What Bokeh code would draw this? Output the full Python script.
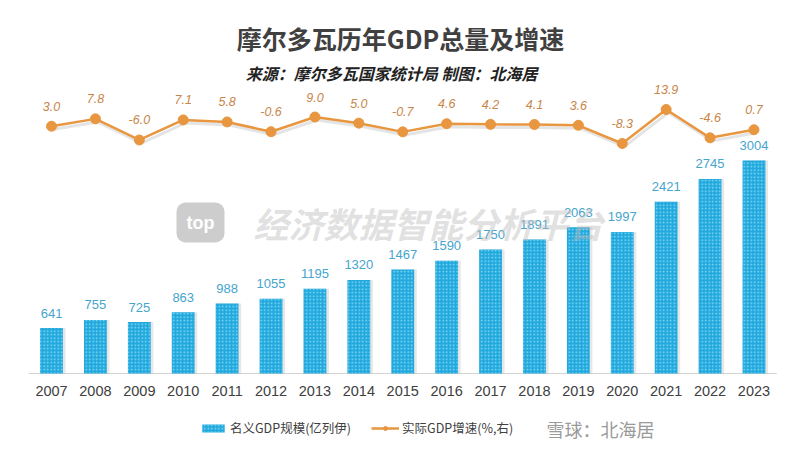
from bokeh.plotting import figure
from bokeh.models import (ColumnDataSource, Range1d, Label, Legend, LegendItem)
from bokeh.transform import dodge
from bokeh.core.properties import value
from bokeh.embed import file_html
from bokeh.resources import INLINE

years = ["2007", "2008", "2009", "2010", "2011", "2012", "2013", "2014", "2015",
         "2016", "2017", "2018", "2019", "2020", "2021", "2022", "2023"]
gdp = [641, 755, 725, 863, 988, 1055, 1195, 1320, 1467, 1590, 1750, 1891, 2063,
       1997, 2421, 2745, 3004]
growth = [3.0, 7.8, -6.0, 7.1, 5.8, -0.6, 9.0, 5.0, -0.7, 4.6, 4.2, 4.1, 3.6,
          -8.3, 13.9, -4.6, 0.7]

title_text = "摩尔多瓦历年GDP总量及增速"
subtitle_text = "来源：摩尔多瓦国家统计局  制图：北海居"
bar_name = "名义GDP规模(亿列伊)"
line_name = "实际GDP增速(%,右)"

n = len(years)
src = ColumnDataSource(dict(
    x=list(range(n)),
    year=years,
    gdp=gdp,
    growth=growth,
    gdp_lbl=[str(v) for v in gdp],
    gr_lbl=["%.1f" % v for v in growth],
))

W, H = 800, 451
p = figure(width=W, height=H, output_backend="svg", toolbar_location=None,
           title=None, x_axis_location=None, y_axis_location=None,
           x_range=Range1d(-1.162, 17.06), y_range=Range1d(-1100, 5261),
           min_border=0)
p.extra_y_ranges = {"pct": Range1d(-209.6, 85.16)}
p.outline_line_color = None
p.background_fill_color = "white"
p.border_fill_color = "white"
p.grid.visible = False

CJK = "Noto Sans CJK SC"
NUM = "Liberation Sans"

# category axis (baseline + year labels)
p.segment(x0=[-0.52], y0=[0], x1=[n - 0.48], y1=[0], line_color="#D4D4D4", line_width=1)
p.text(x="x", y=-240, text="year", source=src, text_align="center",
       text_baseline="middle", text_font=value(NUM), text_font_size="14.5px",
       text_color="#404040")

# bar shadow
p.vbar(x=dodge("x", 0.06, range=p.x_range), top="gdp", width=0.52, source=src,
       fill_color="#888888", fill_alpha=0.2, line_color=None)
bars = p.vbar(x="x", top="gdp", width=0.52, source=src,
              fill_color="#22A8DD", line_color=None,
              hatch_pattern="dot", hatch_color="#86DDF6", hatch_scale=3.5,
              hatch_weight=1.3)
p.text(x="x", y="gdp", text="gdp_lbl", source=src, text_align="center",
       text_baseline="middle", y_offset=-15, text_font=value(NUM),
       text_font_size="13px", text_color="#45A5CC")

# line shadow
p.line(x=dodge("x", 0.05, range=p.x_range),
       y=dodge("growth", -2.0, range=p.extra_y_ranges["pct"]),
       source=src, y_range_name="pct", line_color="#777777", line_alpha=0.2,
       line_width=3)
ln = p.line(x="x", y="growth", source=src, y_range_name="pct",
            line_color="#E8963F", line_width=2.5)
sc = p.scatter(x="x", y="growth", source=src, y_range_name="pct", size=10,
               fill_color="#E8963F", line_color="#E8963F")
p.text(x="x", y="growth", text="gr_lbl", source=src, y_range_name="pct",
       text_align="center", text_baseline="middle", y_offset=-20,
       text_font=value(NUM), text_font_style="italic",
       text_font_size="12.5px", text_color="#C8864A")

# titles (screen units, frame = whole figure, y from bottom)
p.add_layout(Label(x=400, y=H - 37, x_units="screen", y_units="screen", text=title_text,
                   text_align="center", text_baseline="middle", text_font=CJK,
                   text_font_style="bold", text_font_size="25px", text_color="#404040"))
p.add_layout(Label(x=393, y=H - 72, x_units="screen", y_units="screen", text=subtitle_text,
                   text_align="center", text_baseline="middle", text_font=CJK,
                   text_font_style="bold italic", text_font_size="16px", text_color="#222222"))

# watermarks
p.add_layout(Label(x=200, y=H - 222, x_units="screen", y_units="screen", text="top",
                   text_align="center", text_baseline="middle", text_font=NUM,
                   text_font_style="bold", text_font_size="18px", text_color="white",
                   background_fill_color="#C4C4C4", background_fill_alpha=0.85,
                   padding=10, border_radius=9))
p.add_layout(Label(x=428, y=H - 222, x_units="screen", y_units="screen", text="经济数据智能分析平台",
                   text_align="center", text_baseline="middle", text_font=CJK,
                   text_font_style="bold italic", text_font_size="35px",
                   text_color="#BBBBBB", text_alpha=0.45))
p.add_layout(Label(x=600, y=H - 428, x_units="screen", y_units="screen", text="雪球：北海居",
                   text_align="center", text_baseline="middle", text_font=CJK,
                   text_font_size="18px", text_color="#9A9A9A"))

legend = Legend(items=[LegendItem(label=bar_name, renderers=[bars]),
                       LegendItem(label=line_name, renderers=[ln, sc])],
                location=(199, H - 437), orientation="horizontal",
                padding=0, margin=0, spacing=20, label_standoff=3,
                glyph_width=28, glyph_height=10,
                border_line_alpha=0, background_fill_alpha=0,
                label_text_font=CJK, label_text_font_size="12.5px",
                label_text_color="#404040")
p.add_layout(legend)

open("out.html", "w").write(file_html(p, INLINE))
